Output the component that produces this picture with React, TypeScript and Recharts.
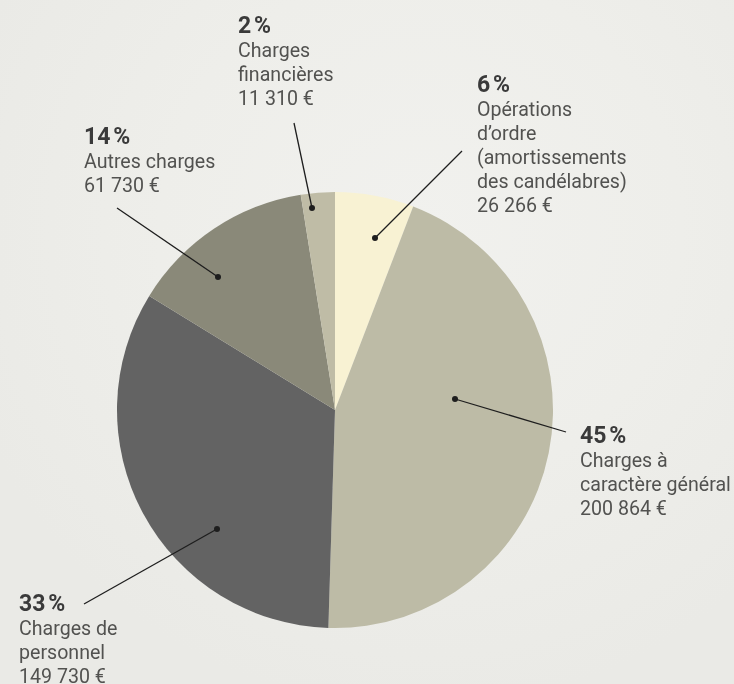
import React from "react";
import { PieChart, Pie, Cell } from "recharts";

const categories = [
  "Opérations d'ordre (amortissements des candélabres)",
  "Charges à caractère général",
  "Charges de personnel",
  "Autres charges",
  "Charges financières",
];
const amounts = [26266, 200864, 149730, 61730, 11310];
const percentLabels = ["6\u202F%", "45\u202F%", "33\u202F%", "14\u202F%", "2\u202F%"];
const labelLines = [
  ["Opérations", "d’ordre", "(amortissements", "des candélabres)", "26 266 €"],
  ["Charges à", "caractère général", "200 864 €"],
  ["Charges de", "personnel", "149 730 €"],
  ["Autres charges", "61 730 €"],
  ["Charges", "financières", "11 310 €"],
];
const colors = ["#f8f2d3", "#bdbba6", "#636363", "#8a8979", "#bfbca6"];

const data = categories.map((name, i) => ({ name, value: amounts[i] }));

// layout of annotation (offsets relative to the pie centre)
const LAYOUT = [
  { dot: [40, -172], end: [127, -259], text: [142, -318] },
  { dot: [120, -11], end: [231, 22], text: [245, 33] },
  { dot: [-118, 119], end: [-251, 194], text: [-316, 201] },
  { dot: [-117, -133], end: [-218, -202], text: [-251, -266] },
  { dot: [-23, -202], end: [-41, -287], text: [-97, -377] },
];

const FONT = "Roboto, 'DejaVu Sans', sans-serif";

const renderLabel = (props: any) => {
  const { cx, cy, index } = props;
  const l = LAYOUT[index];
  const tx = cx + l.text[0];
  const ty = cy + l.text[1];
  return (
    <g key={`lbl-${index}`}>
      <line
        x1={cx + l.dot[0]}
        y1={cy + l.dot[1]}
        x2={cx + l.end[0]}
        y2={cy + l.end[1]}
        stroke="#1e1e1e"
        strokeWidth={1.3}
      />
      <circle cx={cx + l.dot[0]} cy={cy + l.dot[1]} r={3} fill="#1e1e1e" />
      <text x={tx} y={ty} fontFamily={FONT} fontSize={23} fontWeight={700} fill="#3a3a3a">
        {percentLabels[index]}
      </text>
      {labelLines[index].map((t, k) => (
        <text
          key={k}
          x={tx}
          y={ty + 24 * (k + 1)}
          fontFamily={FONT}
          fontSize={19.6}
          fill="#525250"
        >
          {t}
        </text>
      ))}
    </g>
  );
};

export default function App() {
  return (
    <div
      style={{
        position: "fixed",
        left: 0,
        top: 0,
        width: 734,
        height: 684,
        overflow: "hidden",
        background:
          "radial-gradient(circle at 420px 230px, #f1f1ee 0px, #eeeeea 260px, #eaeae6 480px)",
      }}
    >
      <PieChart width={734} height={684} margin={{ top: 0, right: 0, bottom: 0, left: 0 }}>
        <Pie
          data={data}
          dataKey="value"
          nameKey="name"
          cx={335}
          cy={410}
          outerRadius={218}
          startAngle={90}
          endAngle={-270}
          stroke="none"
          isAnimationActive={false}
          label={renderLabel}
          labelLine={false}
        >
          {data.map((d, i) => (
            <Cell key={d.name} fill={colors[i]} />
          ))}
        </Pie>
      </PieChart>
    </div>
  );
}
